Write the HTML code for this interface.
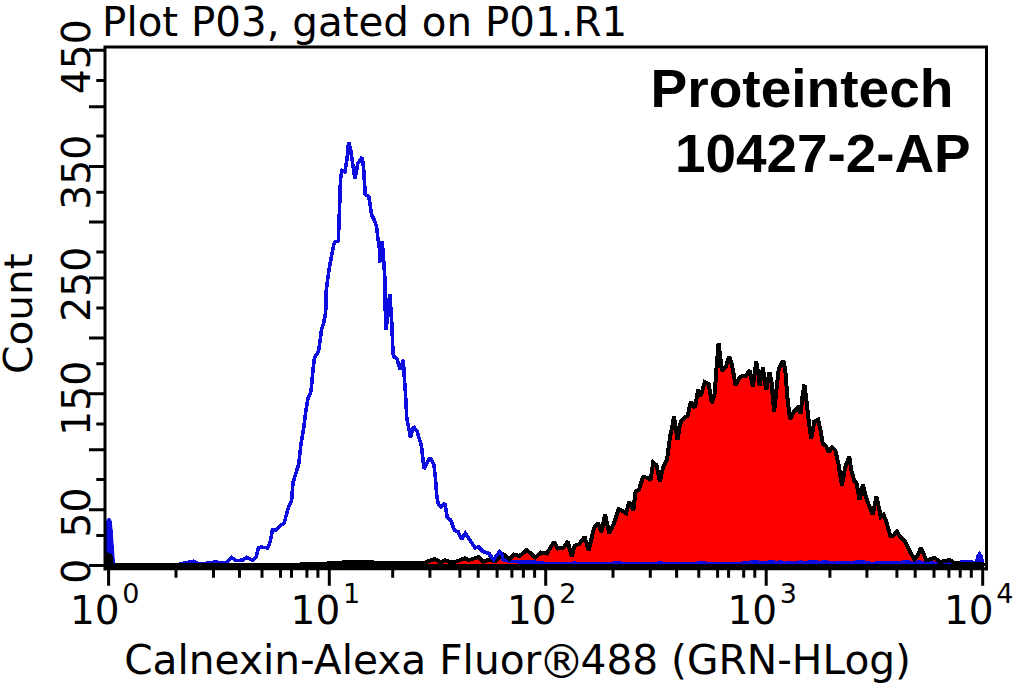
<!DOCTYPE html>
<html><head><meta charset="utf-8"><title>Plot P03</title>
<style>html,body{margin:0;padding:0;background:#fff;} svg{display:block;}</style></head>
<body><svg width="1015" height="683" viewBox="0 0 1015 683">
<rect width="1015" height="683" fill="#fff"/>
<polygon points="105.5,565.6 107.0,565.0 108.5,555.0 110.5,556.0 112.0,565.6 130.0,565.0 200.0,565.0 300.0,564.5 330.0,563.4 352.0,561.8 386.8,562.9 404.0,562.6 424.6,562.6 434.9,559.1 440.4,562.3 445.1,560.2 451.5,562.6 457.8,561.0 464.9,558.3 468.8,560.2 478.3,557.1 483.0,561.8 489.3,559.4 494.8,561.4 503.6,554.5 509.6,559.4 513.5,554.5 519.4,556.0 526.8,550.0 535.2,557.4 541.1,552.5 547.0,553.5 553.9,541.7 557.8,548.6 563.7,547.6 567.7,541.2 571.6,556.5 574.6,546.1 579.5,543.8 584.6,536.8 588.7,550.3 594.0,528.0 598.1,522.8 601.6,532.1 605.1,514.6 609.2,533.3 613.9,523.3 618.6,509.3 622.1,510.5 626.2,513.4 629.2,501.7 633.3,510.5 635.6,491.7 639.1,489.4 641.3,481.7 643.3,477.1 647.9,477.8 650.5,480.4 653.2,462.6 656.5,465.2 659.8,481.7 663.1,467.2 667.0,460.0 668.3,450.1 670.3,435.6 672.3,426.4 674.0,416.5 675.6,426.4 677.6,440.2 679.5,426.4 681.5,420.4 685.5,417.1 687.5,416.0 690.9,401.8 694.9,407.8 698.2,389.3 700.8,395.9 704.8,382.1 708.7,384.0 712.0,403.1 714.7,393.3 716.6,366.9 718.6,343.2 720.6,360.3 721.9,370.9 725.9,366.9 729.2,356.4 731.8,364.3 735.7,385.4 739.0,378.1 743.0,375.5 746.3,375.5 749.6,370.2 752.9,386.7 756.2,361.6 758.3,373.0 759.6,386.1 762.9,367.7 766.2,390.1 769.5,372.3 771.5,382.2 774.1,412.0 778.7,369.0 783.3,360.4 785.3,370.3 787.3,396.7 790.0,419.0 793.9,411.8 797.8,407.9 800.5,413.8 802.4,396.7 804.4,384.8 806.4,400.0 809.0,423.7 811.3,438.5 814.2,421.7 818.2,419.8 820.8,431.6 822.8,443.5 826.1,446.1 828.7,452.1 832.0,447.4 835.3,450.1 838.6,464.6 841.9,485.7 845.2,467.2 849.2,456.7 851.5,471.0 854.4,481.0 856.6,483.2 859.5,500.0 862.9,484.7 866.1,497.8 869.0,505.2 872.7,514.7 876.4,496.4 879.3,509.6 880.8,516.9 883.7,514.7 886.6,522.7 890.3,535.9 893.2,535.9 896.9,531.5 900.5,537.4 904.2,540.3 908.6,549.1 914.5,559.4 917.4,556.4 920.7,548.1 924.7,556.4 926.4,560.4 934.8,557.8 939.6,562.1 950.1,560.0 954.5,563.0 965.0,564.0 983.0,564.5 984.0,565.6" fill="#ff0000" stroke="none"/>
<polygon points="106.3,566 106.3,521 107.5,518.5 110.5,518.5 111.8,522 112.8,533 114.5,557 115.5,566" fill="#0c0ce0"/>
<polygon points="976.8,564 978.4,556.5 979.5,553.8 980.6,556.5 982.3,564" fill="#0c0ce0"/>
<polyline points="107.5,565.0 108.0,522.0 109.0,520.5 110.0,522.0 111.0,533.0 112.5,557.0 113.5,565.0 130.0,565.2 150.0,565.0 158.0,564.8 178.0,564.5 185.8,562.8 193.7,561.3 197.6,563.3 206.3,563.3 214.9,562.0 223.6,562.8 227.6,562.0 231.5,557.3 235.5,560.5 242.6,560.2 246.5,557.3 252.8,560.5 256.0,557.3 258.3,547.9 261.5,547.1 267.8,547.9 270.2,541.5 272.5,529.7 276.5,529.7 280.4,525.8 284.4,522.6 285.9,516.3 288.5,507.2 291.5,501.0 293.0,482.6 295.6,474.4 298.7,464.1 300.8,445.6 303.8,427.2 305.9,410.8 308.0,398.5 311.0,391.3 312.1,380.0 313.1,368.6 314.4,358.0 318.4,351.4 320.3,339.6 321.6,329.0 323.6,323.1 325.6,313.2 326.0,300.0 325.9,293.2 327.8,278.6 329.5,266.9 331.7,255.1 333.5,246.0 334.6,242.2 338.3,240.8 339.0,223.0 339.8,201.0 340.5,179.3 342.0,170.5 344.9,172.0 347.1,158.8 348.6,142.4 350.5,149.0 354.9,179.0 357.8,163.7 362.2,157.1 363.7,169.5 365.2,194.4 368.8,196.6 371.7,214.9 374.5,220.5 376.5,226.0 377.8,237.6 379.3,247.8 379.6,262.5 382.2,241.2 383.7,261.0 385.2,283.0 385.0,303.0 386.1,329.8 389.8,293.9 392.0,326.9 392.7,345.9 393.4,356.1 397.1,359.1 400.0,369.3 403.4,359.8 403.9,371.5 405.4,392.0 406.8,418.3 410.5,437.3 413.4,426.4 417.1,431.5 421.5,446.1 424.0,469.0 430.0,457.5 433.9,464.4 435.4,477.6 436.8,496.6 438.3,503.9 441.2,506.9 444.9,503.2 447.1,517.1 450.7,520.0 454.4,530.3 458.1,531.7 461.7,539.1 465.4,533.2 469.8,539.8 474.9,547.8 478.6,547.1 483.0,551.5 488.1,553.0 491.7,558.1 494.7,558.6 499.1,552.2 503.0,559.5 510.0,561.5 530.0,562.0 540.0,562.5 548.0,564.0 560.0,564.2 575.0,563.2 585.0,564.2 610.0,563.8 618.0,562.6 625.0,564.0 650.0,564.0 660.0,563.0 670.0,564.0 690.0,564.0 700.0,563.0 720.0,564.0 740.0,563.5 752.0,562.1 757.4,562.1 761.9,563.0 766.7,563.0 770.0,561.7 776.6,562.6 780.7,562.1 784.4,563.4 789.3,563.0 794.2,563.4 800.7,562.1 806.2,563.0 810.8,561.7 816.5,561.7 820.1,563.0 823.3,561.7 829.6,562.6 834.5,563.4 841.1,562.6 847.0,562.6 851.6,563.0 856.4,562.1 862.9,561.7 866.0,562.6 869.9,563.4 874.6,563.4 881.0,562.6 886.1,562.6 891.4,563.0 896.7,563.0 900.6,562.6 906.4,561.7 912.8,563.0 918.5,562.1 924.3,562.6 931.1,563.0 936.4,563.4 942.0,563.4 948.4,563.0 952.4,561.7 955.7,563.4 962.6,561.7 967.0,561.7 971.7,562.1 974.7,562.6 976.5,563.0 978.0,556.0 979.5,554.0 981.0,556.0 982.5,563.0 984.0,565.0" fill="none" stroke="#0c0ce0" stroke-width="3.6" stroke-linejoin="miter" stroke-miterlimit="2" shape-rendering="crispEdges"/>
<polygon points="105.5,565.6 107.0,565.0 108.5,555.0 110.5,556.0 112.0,565.6 130.0,565.0 200.0,565.0 300.0,564.5 330.0,563.4 352.0,561.8 386.8,562.9 404.0,562.6 424.6,562.6 434.9,559.1 440.4,562.3 445.1,560.2 451.5,562.6 457.8,561.0 464.9,558.3 468.8,560.2 478.3,557.1 483.0,561.8 489.3,559.4 494.8,561.4 503.6,554.5 509.6,559.4 513.5,554.5 519.4,556.0 526.8,550.0 535.2,557.4 541.1,552.5 547.0,553.5 553.9,541.7 557.8,548.6 563.7,547.6 567.7,541.2 571.6,556.5 574.6,546.1 579.5,543.8 584.6,536.8 588.7,550.3 594.0,528.0 598.1,522.8 601.6,532.1 605.1,514.6 609.2,533.3 613.9,523.3 618.6,509.3 622.1,510.5 626.2,513.4 629.2,501.7 633.3,510.5 635.6,491.7 639.1,489.4 641.3,481.7 643.3,477.1 647.9,477.8 650.5,480.4 653.2,462.6 656.5,465.2 659.8,481.7 663.1,467.2 667.0,460.0 668.3,450.1 670.3,435.6 672.3,426.4 674.0,416.5 675.6,426.4 677.6,440.2 679.5,426.4 681.5,420.4 685.5,417.1 687.5,416.0 690.9,401.8 694.9,407.8 698.2,389.3 700.8,395.9 704.8,382.1 708.7,384.0 712.0,403.1 714.7,393.3 716.6,366.9 718.6,343.2 720.6,360.3 721.9,370.9 725.9,366.9 729.2,356.4 731.8,364.3 735.7,385.4 739.0,378.1 743.0,375.5 746.3,375.5 749.6,370.2 752.9,386.7 756.2,361.6 758.3,373.0 759.6,386.1 762.9,367.7 766.2,390.1 769.5,372.3 771.5,382.2 774.1,412.0 778.7,369.0 783.3,360.4 785.3,370.3 787.3,396.7 790.0,419.0 793.9,411.8 797.8,407.9 800.5,413.8 802.4,396.7 804.4,384.8 806.4,400.0 809.0,423.7 811.3,438.5 814.2,421.7 818.2,419.8 820.8,431.6 822.8,443.5 826.1,446.1 828.7,452.1 832.0,447.4 835.3,450.1 838.6,464.6 841.9,485.7 845.2,467.2 849.2,456.7 851.5,471.0 854.4,481.0 856.6,483.2 859.5,500.0 862.9,484.7 866.1,497.8 869.0,505.2 872.7,514.7 876.4,496.4 879.3,509.6 880.8,516.9 883.7,514.7 886.6,522.7 890.3,535.9 893.2,535.9 896.9,531.5 900.5,537.4 904.2,540.3 908.6,549.1 914.5,559.4 917.4,556.4 920.7,548.1 924.7,556.4 926.4,560.4 934.8,557.8 939.6,562.1 950.1,560.0 954.5,563.0 965.0,564.0 983.0,564.5 984.0,565.6" fill="none" stroke="#000" stroke-width="4" stroke-linejoin="miter" stroke-miterlimit="2" shape-rendering="crispEdges"/>
<polyline points="484.8,552.2 488.9,553.3 491.3,556.9 493.6,559.8 499.6,551.6 502,554.5 503.1,559.8" fill="none" stroke="#0c0ce0" stroke-width="3.6" shape-rendering="crispEdges"/>
<path d="M103.5,47 H988 M986.5,45.5 V570.5 M105,45.5 V570.5 M103.5,568.75 H988" stroke="#000" stroke-width="3" fill="none"/>
<path d="M89,50.2 H105 M89,106.8 H105 M89,166.5 H105 M89,222 H105 M89,278 H105 M89,338 H105 M89,393.8 H105 M89,449.8 H105 M89,509.7 H105 M89,565.6 H105 M96.3,80.5 H105 M96.3,136 H105 M96.3,192.2 H105 M96.3,252 H105 M96.3,308 H105 M96.3,363.7 H105 M96.3,423.9 H105 M96.3,479.5 H105 M96.3,535.6 H105" stroke="#000" stroke-width="3"/>
<path d="M108.6,569 V585.7 M329.3,569 V585.7 M545.7,569 V585.7 M766.2,569 V585.7 M982.7,569 V585.7 M176.0,569 V577.7 M213.5,569 V577.7 M239.5,569 V577.7 M262.0,569 V577.7 M280.5,569 V577.7 M291.5,569 V577.7 M306.9,569 V577.7 M317.9,569 V577.7 M392.7,569 V577.7 M429.9,569 V577.7 M459.9,569 V577.7 M478.2,569 V577.7 M497.1,569 V577.7 M511.9,569 V577.7 M523.4,569 V577.7 M534.6,569 V577.7 M613.0,569 V577.7 M650.3,569 V577.7 M676.6,569 V577.7 M698.8,569 V577.7 M717.6,569 V577.7 M728.6,569 V577.7 M743.7,569 V577.7 M754.8,569 V577.7 M829.9,569 V577.7 M866.9,569 V577.7 M896.9,569 V577.7 M915.2,569 V577.7 M934.0,569 V577.7 M948.9,569 V577.7 M960.2,569 V577.7 M971.3,569 V577.7" stroke="#000" stroke-width="3"/>
<text x="102.1" y="36.1" font-family="DejaVu Sans, Liberation Sans, sans-serif" font-size="40" textLength="525.1" lengthAdjust="spacingAndGlyphs">Plot P03, gated on P01.R1</text>
<text x="650.5" y="107" font-family="Liberation Sans, Arial, sans-serif" font-weight="bold" font-size="53.5" lengthAdjust="spacingAndGlyphs" textLength="303">Proteintech</text>
<text x="674.9" y="172" font-family="Liberation Sans, Arial, sans-serif" font-weight="bold" font-size="53.5" lengthAdjust="spacingAndGlyphs" textLength="295.7">10427-2-AP</text>
<text transform="translate(90.3,56.85) rotate(-90)" text-anchor="middle" font-family="DejaVu Sans, Liberation Sans, sans-serif" font-size="39.3">450</text>
<text transform="translate(90.3,172.35) rotate(-90)" text-anchor="middle" font-family="DejaVu Sans, Liberation Sans, sans-serif" font-size="39.3">350</text>
<text transform="translate(90.3,284.20) rotate(-90)" text-anchor="middle" font-family="DejaVu Sans, Liberation Sans, sans-serif" font-size="39.3">250</text>
<text transform="translate(90.3,398.30) rotate(-90)" text-anchor="middle" font-family="DejaVu Sans, Liberation Sans, sans-serif" font-size="39.3">150</text>
<text transform="translate(90.3,512.50) rotate(-90)" text-anchor="middle" font-family="DejaVu Sans, Liberation Sans, sans-serif" font-size="39.3">50</text>
<text transform="translate(90.3,571.35) rotate(-90)" text-anchor="middle" font-family="DejaVu Sans, Liberation Sans, sans-serif" font-size="39.3">0</text>
<text transform="translate(31.7,313.6) rotate(-90)" text-anchor="middle" font-family="DejaVu Sans, Liberation Sans, sans-serif" font-size="38.5" textLength="120.8" lengthAdjust="spacingAndGlyphs">Count</text>
<text x="69.9" y="623.7" font-family="DejaVu Sans, Liberation Sans, sans-serif" font-size="39">10</text>
<text x="122.2" y="602.6" font-family="DejaVu Sans, Liberation Sans, sans-serif" font-size="27">0</text>
<text x="290.6" y="623.7" font-family="DejaVu Sans, Liberation Sans, sans-serif" font-size="39">10</text>
<text x="342.9" y="602.6" font-family="DejaVu Sans, Liberation Sans, sans-serif" font-size="27">1</text>
<text x="507.0" y="623.7" font-family="DejaVu Sans, Liberation Sans, sans-serif" font-size="39">10</text>
<text x="559.3" y="602.6" font-family="DejaVu Sans, Liberation Sans, sans-serif" font-size="27">2</text>
<text x="727.5" y="623.7" font-family="DejaVu Sans, Liberation Sans, sans-serif" font-size="39">10</text>
<text x="779.8" y="602.6" font-family="DejaVu Sans, Liberation Sans, sans-serif" font-size="27">3</text>
<text x="944.0" y="623.7" font-family="DejaVu Sans, Liberation Sans, sans-serif" font-size="39">10</text>
<text x="996.3" y="602.6" font-family="DejaVu Sans, Liberation Sans, sans-serif" font-size="27">4</text>
<text x="124.2" y="673.5" font-family="DejaVu Sans, Liberation Sans, sans-serif" font-size="40" textLength="786.8" lengthAdjust="spacingAndGlyphs">Calnexin-Alexa Fluor<tspan font-size="45.6" dx="-3" dy="4">®</tspan><tspan dx="-4" dy="-4">488 (GRN-HLog)</tspan></text>
</svg></body></html>
